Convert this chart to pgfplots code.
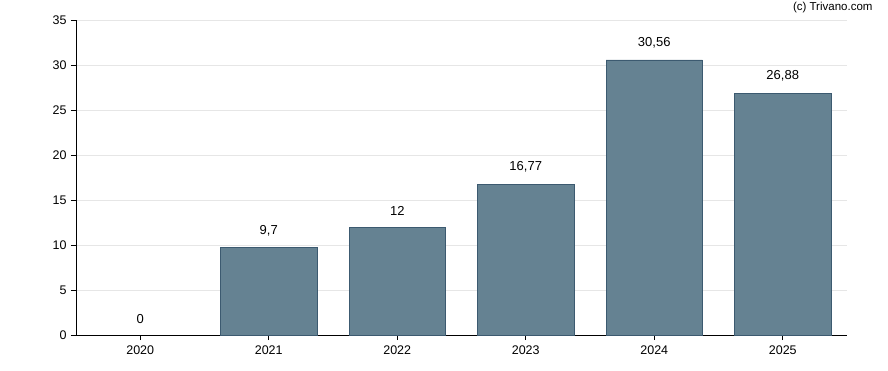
\documentclass[border=0pt]{standalone}
\usepackage{pgfplots}
\pgfplotsset{compat=1.18}
\usepackage{fontspec}
\setmainfont{Liberation Sans}
\definecolor{barfill}{RGB}{101,130,146}
\definecolor{baredge}{RGB}{60,90,112}
\definecolor{gridc}{RGB}{230,230,230}
\begin{document}
\begin{tikzpicture}[x=1pt,y=1pt]
\useasboundingbox (-76,-35) rectangle (812,335);
\begin{axis}[
  at={(0,0)}, anchor=south west,
  scale only axis, width=771pt, height=315pt,
  xmin=-0.5, xmax=5.5, ymin=0, ymax=35,
  xtick={0,1,2,3,4,5},
  xticklabels={2020,2021,2022,2023,2024,2025},
  ytick={0,5,10,15,20,25,30,35},
  axis x line*=bottom, axis y line*=left,
  axis line style={black, line width=1pt},
  tick align=outside, major tick length=5pt,
  tick style={black, line width=0.8pt},
  ymajorgrids, grid style={gridc, line width=0.8pt},
  tick label style={font=\fontsize{12.5}{15}\selectfont},
  /pgf/number format/assume math mode=true,
  xticklabel style={yshift=-2pt},
  yticklabel style={xshift=-1pt},
  ybar, bar width=0.75, bar shift=0pt,
  point meta=explicit symbolic,
  nodes near coords,
  every node near coord/.append style={font=\fontsize{13}{15}\selectfont, yshift=8pt},
]
\addplot[draw=none, fill=none] table[meta=lab] {
x y lab
0 0 0
};
\addplot[fill=barfill, draw=baredge, line width=0.8pt] table[meta=lab] {
x y lab
1 9.7 9,7
2 12 12
3 16.77 16,77
4 30.56 30,56
5 26.88 26,88
};
\end{axis}
\node[anchor=east, font=\fontsize{11.5}{13}\selectfont] at (800,327) {(c) Trivano.com};
\end{tikzpicture}
\end{document}
